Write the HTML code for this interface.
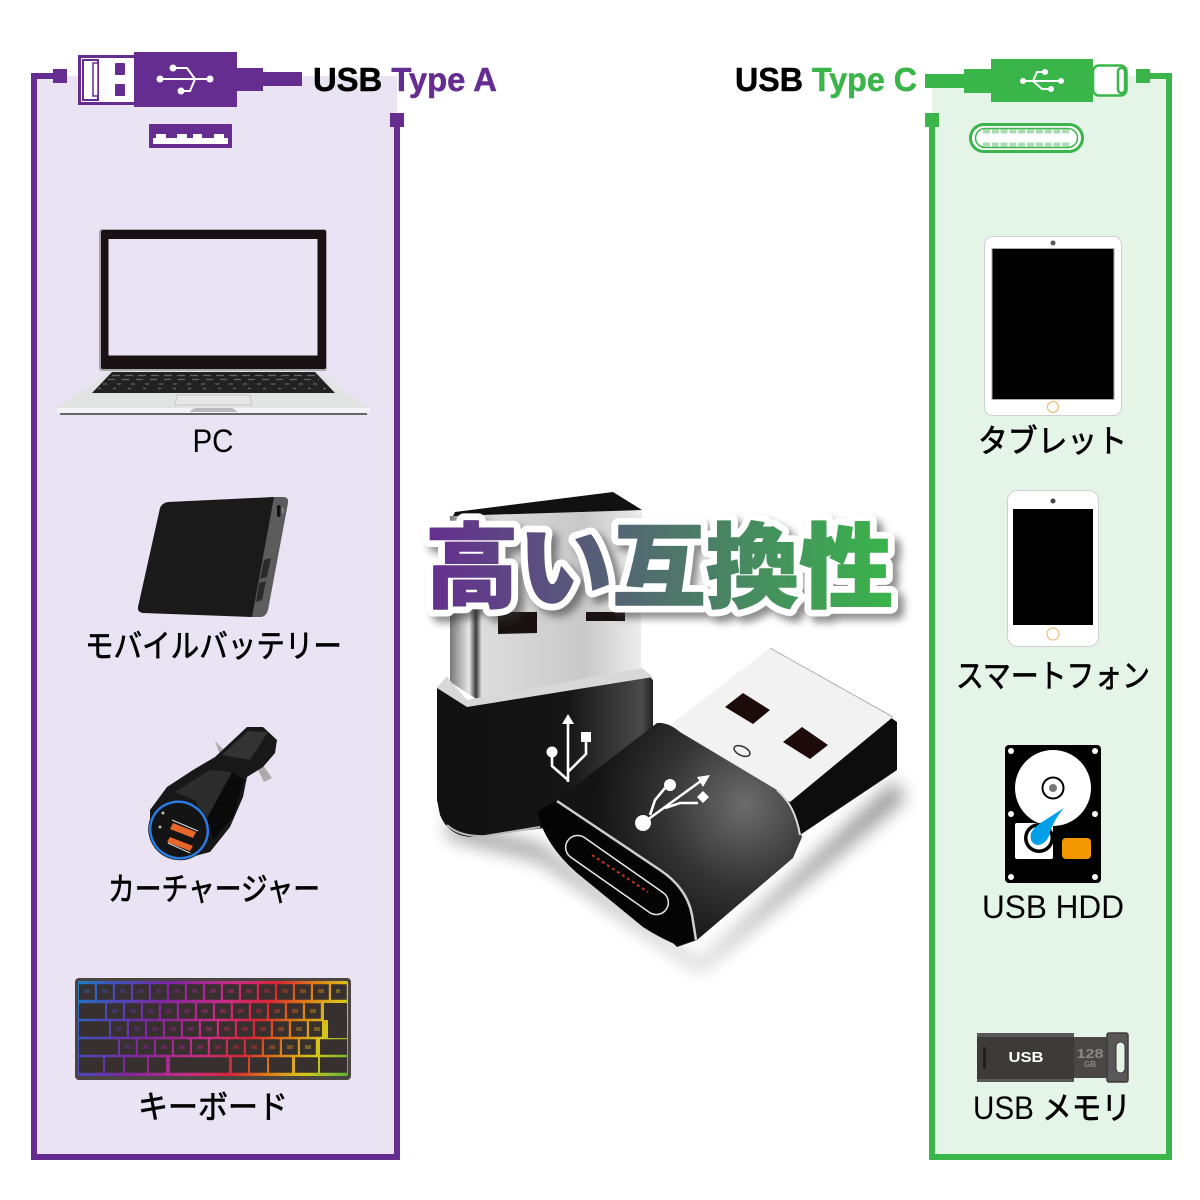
<!DOCTYPE html>
<html lang="ja"><head><meta charset="utf-8"><title>USB Type A / Type C</title>
<style>html,body{margin:0;padding:0;background:#fff}svg{display:block}
text{font-family:"Liberation Sans","Noto Sans CJK JP",sans-serif}
.l{font-size:32px;fill:#000}
.k{stroke:#000;stroke-width:.7}
.h{font-size:33px;font-weight:700;stroke-width:.5}
</style></head><body>
<svg xmlns="http://www.w3.org/2000/svg" width="1200" height="1200" viewBox="0 0 1200 1200">
<defs>
<linearGradient id="tg" gradientUnits="userSpaceOnUse" x1="425" y1="0" x2="893" y2="0"><stop offset="0" stop-color="#662d91"/><stop offset="1" stop-color="#39b54a"/></linearGradient>
<linearGradient id="rb" gradientUnits="userSpaceOnUse" x1="75" y1="960" x2="350" y2="1100">
<stop offset="0" stop-color="#0aa0e0"/><stop offset=".14" stop-color="#3a55d0"/><stop offset=".32" stop-color="#8a20b0"/><stop offset=".5" stop-color="#e02890"/><stop offset=".62" stop-color="#f02030"/><stop offset=".72" stop-color="#f88010"/><stop offset=".83" stop-color="#f0e010"/><stop offset="1" stop-color="#30c040"/></linearGradient>
<linearGradient id="me" x1="0" y1="0" x2="1" y2="0"><stop offset="0" stop-color="#777"/><stop offset=".1" stop-color="#e8e8e8"/><stop offset=".135" stop-color="#3a3a3a"/><stop offset=".165" stop-color="#ddd"/><stop offset=".7" stop-color="#c8c8c8"/><stop offset="1" stop-color="#eee"/></linearGradient>
<linearGradient id="bk1" x1="0" y1="0" x2="1" y2="0"><stop offset="0" stop-color="#111"/><stop offset=".6" stop-color="#151515"/><stop offset=".95" stop-color="#4a4a4a"/><stop offset="1" stop-color="#222"/></linearGradient>
<radialGradient id="bk2" gradientUnits="userSpaceOnUse" cx="745" cy="805" r="150"><stop offset="0" stop-color="#6c6c6c"/><stop offset=".55" stop-color="#333"/><stop offset="1" stop-color="#141414"/></radialGradient>
<filter id="b8" x="-30%" y="-30%" width="160%" height="160%"><feGaussianBlur stdDeviation="9"/></filter>
<filter id="b3" x="-10%" y="-30%" width="120%" height="160%"><feGaussianBlur stdDeviation="4"/></filter>
</defs>

<!-- panels -->
<rect x="34" y="76" width="363" height="1081" fill="#eae3f3"/>
<rect x="932" y="76" width="237" height="1081" fill="#e4f4e7"/>
<path d="M60 76H34V1157H397V120" fill="none" stroke="#662d91" stroke-width="6"/>
<rect x="53" y="69" width="14" height="14" fill="#662d91"/><rect x="390" y="113" width="14" height="14" fill="#662d91"/>
<path d="M1143 76H1169V1157H932V120" fill="none" stroke="#39b54a" stroke-width="6"/>
<rect x="1136" y="69" width="14" height="14" fill="#39b54a"/><rect x="925" y="113" width="14" height="14" fill="#39b54a"/>

<!-- USB A plug -->
<rect x="79.500" y="56.500" width="56" height="47" fill="#fff" stroke="#662d91" stroke-width="3"/>
<rect x="83" y="60" width="15" height="40" fill="#fff" stroke="#662d91" stroke-width="2"/>
<rect x="93" y="63" width="5" height="33" fill="#fff" stroke="#662d91" stroke-width="1.500"/>
<rect x="115" y="63" width="10" height="12" rx="1" fill="#662d91"/><rect x="115" y="84" width="10" height="12" rx="1" fill="#662d91"/>
<path d="M134 52H237V107H134ZM237 68H263V91H237ZM263 72H302V86H263Z" fill="#662d91"/>
<g fill="none" stroke="#fff" stroke-width="2"><path d="M160 79H210M173 68H187L195 79M181 91H190L195 79"/></g>
<g fill="#fff"><circle cx="160" cy="79" r="3.500"/><circle cx="210" cy="79" r="3.500"/><circle cx="173" cy="68" r="3.500"/><circle cx="181" cy="91" r="3.500"/></g>
<text class="h" x="313" y="91" textLength="184" lengthAdjust="spacingAndGlyphs"><tspan fill="#000" stroke="#000">USB </tspan><tspan fill="#662d91" stroke="#662d91">Type A</tspan></text>
<rect x="149" y="124" width="83" height="24" rx="1" fill="#662d91"/>
<path d="M153 138H228V144H153Z" fill="#fff"/>
<path d="M156 134H166V138H156ZM177 134H187V138H177ZM193 134H202V138H193ZM214 134H224V138H214Z" fill="#fff"/>

<!-- USB C plug -->
<text class="h" x="735" y="91" textLength="182" lengthAdjust="spacingAndGlyphs"><tspan fill="#000" stroke="#000">USB </tspan><tspan fill="#39b54a" stroke="#39b54a">Type C</tspan></text>
<path d="M925 74H964V88H925ZM964 69H991V93H964ZM991 59H1093V102H991Z" fill="#39b54a"/>
<rect x="1093" y="65.500" width="33.500" height="30" rx="6" fill="#fff" stroke="#39b54a" stroke-width="2.500"/>
<rect x="1118" y="68" width="7" height="25" rx="3.500" fill="#fff" stroke="#39b54a" stroke-width="2.500"/>
<g fill="none" stroke="#fff" stroke-width="2"><path d="M1023 81H1061M1045 72H1037L1033 81M1051 89H1042L1033 81"/></g>
<g fill="#fff"><circle cx="1023" cy="81" r="3"/><circle cx="1061" cy="81" r="3"/><circle cx="1045" cy="72" r="3"/><circle cx="1051" cy="89" r="3"/></g>
<rect x="970.500" y="124.500" width="112" height="27" rx="13.500" fill="#fff" stroke="#39b54a" stroke-width="3"/>
<rect x="975.500" y="128.500" width="102" height="19" rx="9.500" fill="#fff" stroke="#39b54a" stroke-width="1.500"/>
<line x1="983" y1="131.500" x2="1070" y2="131.500" stroke="#a9dcb2" stroke-width="4" stroke-dasharray="7 1.800"/>
<line x1="983" y1="144.500" x2="1070" y2="144.500" stroke="#a9dcb2" stroke-width="4" stroke-dasharray="7 1.800"/>

<!-- laptop -->
<path d="M113 369H313L369 408V412H57V408Z" fill="#e2e3e3"/>
<path d="M57 408H370V411Q370 413 366 413H61Q57 413 57 411Z" fill="#f4f4f4"/>
<rect x="60" y="413" width="307" height="2" fill="#666"/>
<rect x="99" y="229" width="228" height="142" rx="3" fill="#a8a8aa"/>
<rect x="101" y="230" width="225" height="139" rx="2" fill="#1a1115"/>
<rect x="108.500" y="239" width="209" height="116.500" fill="#eae3f3"/>
<path d="M112 372H315L335 393H92Z" fill="#222"/>
<g stroke="#666" stroke-width="1.200"><line x1="112" y1="375.500" x2="315" y2="375.500" stroke-dasharray="8 5"/><line x1="108" y1="379.500" x2="319" y2="379.500" stroke-dasharray="7 7"/><line x1="103" y1="384" x2="324" y2="384" stroke-dasharray="4 10"/><line x1="98" y1="388.500" x2="329" y2="388.500" stroke-dasharray="3 12"/></g>
<path d="M177 395H250L252 405H175Z" fill="#e6e6e6" stroke="#c6c6c6"/>
<path d="M190 412Q192 408 197 408H230Q235 408 237 412Z" fill="#b8babb"/>
<text class="l" x="213" y="452" text-anchor="middle" textLength="41" lengthAdjust="spacingAndGlyphs">PC</text>

<!-- power bank -->
<path d="M270 497L283 497Q289 497 288 503L268 610Q266 617 260 617L248 617Z" fill="#5c5c5c"/>
<path d="M168 502L274 497L252 617L143 613Q137 612 138 607L160 508Q162 503 168 502Z" fill="#1a1a1a"/>
<path d="M264 560L271 558L267 577L260 579ZM259 583L266 581L262 600L256 602Z" fill="#2a2a2a"/>
<rect x="277" y="505" width="3.500" height="12" rx="1.700" fill="#111"/><rect x="282" y="508" width="1.500" height="5" fill="#999"/>
<text class="l k" x="85" y="657" textLength="257" lengthAdjust="spacingAndGlyphs">モバイルバッテリー</text>

<!-- car charger -->
<path d="M215 741L230 756L222 760ZM262 764L272 778L264 782L258 770Z" fill="#aaa"/>
<path d="M215 757L247 727H263L277 740L275 753L263 767L247 777L243 797L230 827L210 852L180 860L150 835L150 810L167 787L193 770Z" fill="#181818"/>
<path d="M222 755L248 731L268 732L250 760Z" fill="#333"/>
<path d="M175 792L210 770L232 772L222 800L205 820L195 800Z" fill="#2c2c2c"/>
<path d="M232 772L244 780L234 815L214 840L205 822Z" fill="#0a0a0a"/>
<ellipse cx="179" cy="830" rx="31" ry="30" fill="#0d0d0d" transform="rotate(30 179 830)"/>
<ellipse cx="179" cy="830" rx="29" ry="28" fill="#141414" stroke="#2a7ae0" stroke-width="2.500" transform="rotate(30 179 830)"/>
<path d="M173 823L196 832L193 838L170 829Z" fill="#e8662a"/><path d="M170 837L193 846L190 851L167 842Z" fill="#e8662a"/>
<path d="M172 820L198 831M168 843L190 853" stroke="#ddd" stroke-width="1"/>
<circle cx="163" cy="813" r="1.500" fill="#bbb"/><circle cx="160" cy="827" r="1.500" fill="#bbb"/>
<text class="l k" x="108" y="900" textLength="212" lengthAdjust="spacingAndGlyphs">カーチャージャー</text>

<!-- keyboard -->
<rect x="75" y="978" width="276" height="102" rx="4" fill="#4a4543"/>
<rect x="78" y="981" width="270" height="95" rx="2" fill="url(#rb)" opacity=".85"/>
<g stroke="#38302e" stroke-width="15.500" fill="none">
<line x1="79" y1="992" x2="348" y2="992" stroke-dasharray="15.800 2.200"/>
<path d="M79 1011H105"/><line x1="107" y1="1011" x2="322" y2="1011" stroke-dasharray="15.800 2.200"/>
<path d="M79 1029H109"/><line x1="111" y1="1029" x2="322" y2="1029" stroke-dasharray="15.800 2.200"/>
<path d="M79 1047H118M320 1047H347"/><line x1="120" y1="1047" x2="318" y2="1047" stroke-dasharray="15.800 2.200"/>
<path d="M79 1065H103M105 1065H123M125 1065H147M149 1065H166M170 1065H229M232 1065H248M250 1065H267M269 1065H292M295 1065H318M320 1065H347"/>
</g>
<path d="M324 1003H347V1038H328V1020H324Z" fill="#38302e"/>
<g stroke="url(#rb)" stroke-width="4" opacity=".35" fill="none"><line x1="84" y1="991" x2="340" y2="991" stroke-dasharray="6 12"/><line x1="112" y1="1011" x2="318" y2="1011" stroke-dasharray="6 12"/><line x1="116" y1="1029" x2="320" y2="1029" stroke-dasharray="6 12"/><line x1="125" y1="1047" x2="315" y2="1047" stroke-dasharray="6 12"/></g>
<text class="l k" x="138" y="1118" textLength="150" lengthAdjust="spacingAndGlyphs">キーボード</text>

<!-- tablet -->
<rect x="984.500" y="236.500" width="137" height="179" rx="8" fill="#fff" stroke="#cfcfcf"/>
<rect x="992" y="248.500" width="122" height="151" fill="#000" stroke="#aaa" stroke-width="1"/>
<circle cx="1053" cy="243" r="2.500" fill="#555"/><circle cx="1053" cy="407" r="5.500" fill="#fff" stroke="#efb263" stroke-width="1"/>
<text class="l k" x="978" y="452" textLength="149" lengthAdjust="spacingAndGlyphs">タブレット</text>

<!-- phone -->
<rect x="1007.500" y="490.500" width="91" height="156" rx="10" fill="#fff" stroke="#cfcfcf"/>
<rect x="1013" y="509" width="80" height="116" fill="#000"/>
<circle cx="1053" cy="501" r="2.500" fill="#444"/><circle cx="1053" cy="634" r="6" fill="#fff" stroke="#efb263" stroke-width="1"/>
<text class="l k" x="956" y="687" textLength="194" lengthAdjust="spacingAndGlyphs">スマートフォン</text>

<!-- HDD -->
<rect x="1005" y="745" width="96" height="138" rx="4" fill="#000"/>
<g fill="#fff"><circle cx="1011" cy="751" r="3"/><circle cx="1095" cy="751" r="3"/><circle cx="1011" cy="814" r="3"/><circle cx="1095" cy="814" r="3"/><circle cx="1011" cy="877" r="3"/><circle cx="1095" cy="877" r="3"/></g>
<circle cx="1053" cy="788" r="38" fill="#fff"/>
<circle cx="1053" cy="788" r="10.500" fill="#fff" stroke="#000" stroke-width="2"/><circle cx="1053" cy="788" r="4" fill="#777"/>
<rect x="1015" y="823" width="38" height="36" rx="2" fill="#fff"/>
<circle cx="1039" cy="838" r="15" fill="#000"/><circle cx="1039" cy="838" r="11.500" fill="#fff"/>
<path d="M1064 808Q1052 822 1049 836Q1045 845 1037 845Q1029 843 1031 833Q1034 827 1042 822Z" fill="#00a0e9"/>
<rect x="1062" y="838" width="29" height="21" rx="4" fill="#f39800"/>
<text class="l" x="982" y="918" textLength="142" lengthAdjust="spacingAndGlyphs">USB HDD</text>

<!-- USB stick -->
<rect x="1074" y="1037" width="36" height="41" fill="#4a4746"/>
<rect x="977" y="1033" width="97" height="49" rx="2" fill="#3e3a39"/>
<rect x="977" y="1033" width="97" height="4" fill="#595757"/><rect x="977" y="1079" width="97" height="3" fill="#595757"/>
<rect x="983" y="1047" width="3" height="22" rx="1.500" fill="#221e1d"/>
<rect x="1107" y="1033" width="21" height="49" rx="2" fill="#595757" stroke="#3e3a39" stroke-width="1.500"/>
<rect x="1116" y="1042" width="9" height="31" rx="4.500" fill="#e4f4e7" stroke="#333"/>
<text x="1026" y="1062" text-anchor="middle" font-size="15" font-weight="700" fill="#fff" textLength="35" lengthAdjust="spacingAndGlyphs">USB</text>
<text x="1090" y="1058" text-anchor="middle" font-size="13" font-weight="700" fill="#8a8888" textLength="27" lengthAdjust="spacingAndGlyphs">128</text>
<text x="1090" y="1067" text-anchor="middle" font-size="8" font-weight="700" fill="#8a8888">GB</text>
<text class="l" x="973" y="1119" textLength="158" lengthAdjust="spacingAndGlyphs">USB <tspan class="k">メモリ</tspan></text>

<!-- adapters: shadows -->
<path d="M445 820L540 845L700 965L810 860L895 780L905 800L700 970L540 860L450 838Z" fill="#000" opacity=".4" filter="url(#b8)"/>

<!-- adapter 1 -->
<path d="M455 512L613 492L642 510L450 522Z" fill="#111"/>
<path d="M450 516L642 510L641 672L478 700L450 682Z" fill="url(#me)"/>
<path d="M498 612H537V633L498 634ZM586 612H625V621H586Z" fill="#1a1210"/>
<path d="M447 677L467 702L650 677L653 680V760L640 790L545 828L470 837Q448 835 440 815L437 800V688Z" fill="url(#bk1)"/>
<path d="M437 688L447 677L467 700L642 668L653 677L467 707Z" fill="#d8d8d8"/>
<path d="M447 825Q460 837 485 836L540 827" fill="none" stroke="#bbb" stroke-width="2"/>
<g stroke="#fff" stroke-width="2.600" fill="none"><path d="M568 720V782M552 756V766L568 780M586 742V754L568 772"/></g>
<path d="M568 714L562 724H574Z" fill="#fff"/><circle cx="552" cy="752" r="5.500" fill="#fff"/><rect x="581" y="732" width="10" height="10" fill="#fff"/>

<!-- adapter 2 -->
<path d="M890 717L897 722L897 770L800 835L785 802Z" fill="#0d0d0d"/>
<path d="M670 725L770 648L893 717L790 802Z" fill="#f2f2f2"/>
<path d="M770 648L893 717" stroke="#aaa" stroke-width="1"/>
<path d="M725 707L743 693L770 710L753 724ZM783 742L802 727L828 745L810 759Z" fill="#1c0b08"/>
<ellipse cx="742" cy="751" rx="8.500" ry="4.500" fill="#f2f2f2" stroke="#333" stroke-width="1.500" transform="rotate(25 742 751)"/>
<path d="M537 812L557 800L657 723Q668 722 680 732L777 790Q792 805 802 837L793 858L697 940L677 947Z" fill="url(#bk2)"/>
<path d="M537 812L557 800L660 870Q690 888 697 940L677 945Q660 938 643 927L577 873Q545 845 537 812Z" fill="#040404"/>
<path d="M557 801L660 870Q687 888 692 915L696 940" fill="none" stroke="#cfcfcf" stroke-width="2.500"/>
<path d="M777 790Q795 805 800 835" fill="none" stroke="#ddd" stroke-width="2"/>
<rect x="557" y="863" width="120" height="24" rx="12" fill="#050505" stroke="#e8e8e8" stroke-width="1.500" transform="rotate(35 617 875)"/>
<line x1="592" y1="855" x2="648" y2="892" stroke="#b83a20" stroke-width="2" stroke-dasharray="3 3"/>
<g stroke="#fff" stroke-width="2.600" fill="none"><path d="M643 823L705 778M650 815L655 800L665 788M665 808L680 803H698"/></g>
<circle cx="643" cy="823" r="8" fill="#fff"/><circle cx="670" cy="785" r="6" fill="#fff"/>
<path d="M710 775L697 777L703 787Z" fill="#fff"/><path d="M703 791L709 797L703 803L697 797Z" fill="#fff"/>

<!-- title -->
<g font-size="92" font-weight="900">
<text x="431" y="606" textLength="468" lengthAdjust="spacingAndGlyphs" fill="#333" stroke="#333" stroke-width="15" stroke-linejoin="round" opacity=".55" filter="url(#b3)">高い互換性</text>
<text x="425" y="600" textLength="468" lengthAdjust="spacingAndGlyphs" fill="#fff" stroke="#fff" stroke-width="15" stroke-linejoin="round">高い互換性</text>
<text x="425" y="600" textLength="468" lengthAdjust="spacingAndGlyphs" fill="url(#tg)" stroke="url(#tg)" stroke-width="1.500" stroke-linejoin="round">高い互換性</text>
</g>
</svg>
</body></html>
